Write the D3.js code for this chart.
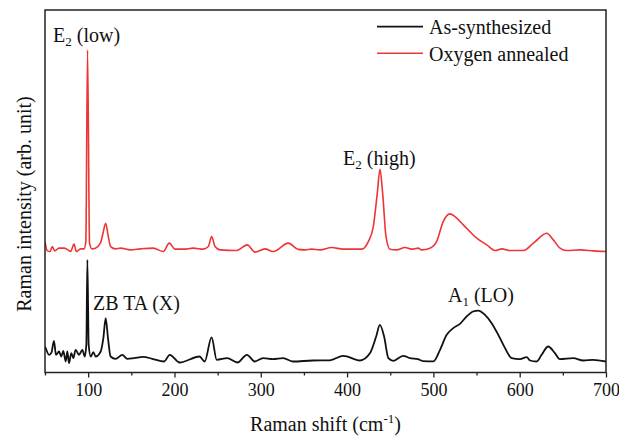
<!DOCTYPE html>
<html>
<head>
<meta charset="utf-8">
<script src="https://cdn.jsdelivr.net/npm/d3@7"></script>
<style>
  html, body { margin: 0; padding: 0; background: #fff; }
  svg { display: block; }
</style>
</head>
<body>
<svg id="chart" width="619" height="436" font-family="Liberation Serif"></svg>
<script>
// Raman shift (cm-1) and intensities (arb. unit)
const asSynX = [50,50.8,54.7,57.4,60.4,62.7,66.2,68.9,71.2,74,75.9,77.8,80.5,82.8,85.5,89.4,93.3,96,97.9,99.1,100.6,103,106,108.7,114.5,117.6,120.3,123,126,131.8,139.6,145.4,153,163.7,174.3,188,194.5,206,229,235,243,249,261,273,284,293,302.7,314,326,337,360,380,395.6,415,426.8,433.7,438,442.9,447.9,453.7,465,472.7,482,487.9,500,507.7,515.4,523,530.8,538.5,546,552,559.8,567.5,575.2,583,590.7,600.3,608,612,619.6,625.4,633,640.8,646.6,662,673.6,685,700];
const asSynY = [26,24.4,17.7,19.7,31.7,17.7,21,16,21.7,11,21,9.4,19.4,14.4,22.7,17.7,22.7,16,27.7,112.7,27.7,16,20.4,16,21,34.4,54.4,34.4,16,13.7,17.7,13.7,14.4,15.7,13.7,11,17.7,10,16,11,35.2,12.7,14.4,10,17.7,11,14.4,13.4,14.4,11,12,12.2,16.7,12,19.7,36,47.7,36,14.4,11.7,16.7,14.4,13.4,11.4,11.2,22.7,37.7,44.4,48.7,56,61,62,57.7,49.4,37.7,24.4,14.4,13.4,15.4,12,11,17.7,26,19.4,13.4,14.4,12,12.7,11];

const oxyX = [50,52.7,55.8,58.5,61.2,66.2,72,76.6,79.7,83.6,86.3,91.3,95.2,97.3,99.3,101.6,104.4,108.3,114.2,117.2,120.3,123,126,131.8,137.6,149.2,160.8,175.5,187,194,200.6,210.3,221.8,233.4,239.2,243.1,247,252.8,272,284.4,293.3,304.9,314.5,331.9,343.5,351.3,359,368.6,382.1,395.6,416.9,424.6,430.4,435,438.1,441.2,445.1,449.7,457.4,467,474.8,482.5,486.3,496,503.7,511.4,519.2,525,534.7,550.2,561.8,571.5,579.2,588.8,604.3,615.9,631.3,639,646.7,654.5,670,685.4,700];
const oxyY = [131,121.7,121,126,121.7,124.4,124.4,122.7,121,128.4,121,123.7,123.7,131,322.7,129.4,123.7,124.4,129.4,139.4,149.4,137.7,126,123.7,124.4,122.7,123.7,124.4,121,129.4,123.4,123.4,124.4,123.4,126,136,126,122.7,122,127.7,120.4,123.7,121,129.4,123.2,122.7,123.4,122.7,125,123.4,123.4,131,146,179.4,203.2,179.4,136,123.4,122.7,125,123.4,124.4,122.7,124.4,131,151,158.7,156,147.7,134.4,127.7,122,123.7,122,122,129.4,139.4,132.7,124.4,122,122.7,121.7,121];

const seriesNames = ["As-synthesized", "Oxygen annealed"];
const seriesColors = ["#111111", "#ee3535"];
const majorTicks = [100, 200, 300, 400, 500, 600, 700];
const minorTicks = [50, 150, 250, 350, 450, 550, 650];

const FONT = "Liberation Serif";
const svg = d3.select("#chart");
const m = {left: 45, right: 13, top: 10, bottom: 63.5};
const W = 619, H = 436;
const x = d3.scaleLinear().domain([50, 700]).range([m.left, W - m.right]);
const y = d3.scaleLinear().domain([0, 362.7]).range([H - m.bottom, m.top]);

const line = d3.line().x(d => x(d[0])).y(d => y(d[1])).curve(d3.curveMonotoneX);

svg.append("clipPath").attr("id", "clip").append("rect")
  .attr("x", m.left).attr("y", m.top)
  .attr("width", W - m.left - m.right).attr("height", H - m.top - m.bottom);

const g = svg.append("g").attr("clip-path", "url(#clip)");
g.append("path").datum(oxyX.map((v, i) => [v, oxyY[i]]))
  .attr("d", line).attr("fill", "none").attr("stroke", seriesColors[1]).attr("stroke-width", 1.6);
g.append("path").datum(asSynX.map((v, i) => [v, asSynY[i]]))
  .attr("d", line).attr("fill", "none").attr("stroke", seriesColors[0]).attr("stroke-width", 1.8);

// axes
const xAxis = svg.append("g").attr("transform", `translate(0,${H - m.bottom})`)
  .call(d3.axisBottom(x).tickValues(majorTicks).tickSize(5).tickSizeOuter(0).tickPadding(6))
  .attr("font-family", FONT).attr("font-size", 18);
xAxis.select(".domain").remove();
xAxis.selectAll("line").attr("stroke", "#222").attr("stroke-width", 1.3);
xAxis.selectAll("text").attr("fill", "#111");

const xMinor = svg.append("g").attr("transform", `translate(0,${H - m.bottom})`)
  .call(d3.axisBottom(x).tickValues(minorTicks).tickSize(3).tickSizeOuter(0).tickFormat(""));
xMinor.select(".domain").remove();
xMinor.selectAll("line").attr("stroke", "#222").attr("stroke-width", 1.3);

// frame
svg.append("rect").attr("x", m.left).attr("y", m.top)
  .attr("width", W - m.left - m.right).attr("height", H - m.top - m.bottom)
  .attr("fill", "none").attr("stroke", "#222").attr("stroke-width", 1.5);

// axis titles
const xt = svg.append("text").attr("x", (m.left + W - m.right) / 2).attr("y", 431)
  .attr("text-anchor", "middle").attr("font-family", FONT).attr("font-size", 20).attr("fill", "#111");
xt.append("tspan").text("Raman shift (cm");
xt.append("tspan").text("-1").attr("font-size", 13).attr("dy", -8);
xt.append("tspan").text(")").attr("dy", 8);

svg.append("text").attr("transform", "translate(31,204) rotate(-90)")
  .attr("text-anchor", "middle").attr("font-family", FONT).attr("font-size", 20).attr("fill", "#111")
  .text("Raman intensity (arb. unit)");

// peak labels
function label(px, py, main, sub, rest) {
  const t = svg.append("text").attr("x", px).attr("y", py)
    .attr("font-family", FONT).attr("font-size", 20).attr("fill", "#111");
  t.append("tspan").text(main);
  if (sub) {
    t.append("tspan").text(sub).attr("font-size", 13).attr("dy", 4);
    t.append("tspan").text(rest).attr("dy", -4);
  }
}
label(53, 42, "E", "2", " (low)");
label(343, 165, "E", "2", " (high)");
label(93, 310, "ZB TA (X)");
label(448, 302, "A", "1", " (LO)");

// legend
const leg = svg.append("g");
seriesNames.forEach((name, i) => {
  const yy = 26.7 + i * 26.6;
  leg.append("line").attr("x1", 377).attr("x2", 423).attr("y1", yy).attr("y2", yy)
    .attr("stroke", seriesColors[i]).attr("stroke-width", i === 0 ? 1.8 : 1.6);
  leg.append("text").attr("x", 429).attr("y", yy + 7.5)
    .attr("font-family", FONT).attr("font-size", 20).attr("fill", "#111").text(name);
});
</script>
</body>
</html>
